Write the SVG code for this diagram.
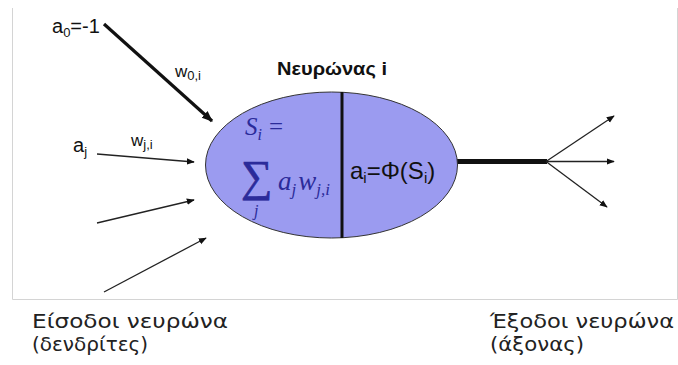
<svg xmlns="http://www.w3.org/2000/svg" width="678" height="365" viewBox="0 0 678 365">
<defs>
<marker id="ah" viewBox="0 0 10 10" refX="9" refY="5" markerWidth="8" markerHeight="8" markerUnits="userSpaceOnUse" orient="auto"><path d="M0,1 L10,5 L0,9 z" fill="#111"/></marker>
<marker id="ahb" viewBox="0 0 10 10" refX="9" refY="5" markerWidth="11" markerHeight="11" markerUnits="userSpaceOnUse" orient="auto"><path d="M0,1 L10,5 L0,9 z" fill="#111"/></marker>
</defs>
<style>
.lbl{font-family:"Liberation Sans",Arial,sans-serif;fill:#111}
.math{font-family:"Liberation Serif","Times New Roman",serif;font-style:italic;fill:#2b2b9a}
.cap{font-family:"DejaVu Sans","Noto Sans",sans-serif;fill:#222;font-size:20px}
.thin{stroke:#222;stroke-width:1.3;fill:none;marker-end:url(#ah)}
</style>
<rect width="678" height="365" fill="#fff"/>
<path d="M12.5,8 V299.5 H677.5 V8" fill="none" stroke="#d4d4d4" stroke-width="1"/>
<g id="connectors">
<line x1="104" y1="24" x2="212" y2="121" stroke="#111" stroke-width="3.2" marker-end="url(#ahb)"/>
<line class="thin" x1="97" y1="154" x2="194" y2="162"/>
<line class="thin" x1="97" y1="223" x2="194" y2="200"/>
<line class="thin" x1="104" y1="292" x2="206" y2="238"/>
<line x1="457" y1="161.5" x2="547" y2="161.5" stroke="#111" stroke-width="5"/>
<line class="thin" x1="546" y1="161.5" x2="614" y2="116"/>
<line class="thin" x1="546" y1="161.5" x2="614" y2="161.5"/>
<line class="thin" x1="546" y1="161.5" x2="607" y2="207"/>
</g>
<g id="inputs">
<text class="lbl" x="52" y="33" font-size="20">a<tspan font-size="13" dy="4">0</tspan><tspan dy="-4">=-1</tspan></text>
<text class="lbl" x="175" y="77" font-size="17">w<tspan font-size="13" dy="3">0,i</tspan></text>
<text class="lbl" x="73" y="152" font-size="20">a<tspan font-size="13" dy="4">j</tspan></text>
<text class="lbl" x="131" y="146" font-size="17">w<tspan font-size="13" dy="3">j,i</tspan></text>
</g>
<g id="neuron">
<ellipse cx="331.5" cy="165" rx="126" ry="73" fill="#9b9bf0" stroke="#333" stroke-width="1"/>
<line x1="342" y1="92" x2="342" y2="238" stroke="#111" stroke-width="3"/>
<text class="lbl" x="277" y="75" font-size="18" font-weight="bold" fill="#111" textLength="110" lengthAdjust="spacingAndGlyphs">Νευρώνας i</text>
<text class="math" x="245" y="135" font-size="25">S<tspan font-size="16" dy="5">i</tspan><tspan dy="-5" dx="7" font-style="normal">=</tspan></text>
<text x="241" y="191" font-size="44" font-family="'Liberation Serif',serif" fill="#2b2b9a" stroke="#2b2b9a" stroke-width="0.7">∑</text>
<text class="math" x="254" y="216" font-size="16">j</text>
<text class="math" x="278" y="190" font-size="27">a<tspan font-size="17" dy="5">j</tspan><tspan dy="-5" dx="2">w</tspan><tspan font-size="17" dy="5">j,i</tspan></text>
<text class="lbl" x="350" y="179" font-size="24">a<tspan font-size="15" dy="4">i</tspan><tspan dy="-4">=Φ(S</tspan><tspan font-size="15" dy="4">i</tspan><tspan dy="-4">)</tspan></text>
</g>
<g id="captions">
<text class="cap" x="32" y="328" textLength="196" lengthAdjust="spacingAndGlyphs">Είσοδοι νευρώνα</text>
<text class="cap" x="32" y="351" textLength="116" lengthAdjust="spacingAndGlyphs">(δενδρίτες)</text>
<text class="cap" x="490" y="328" textLength="184" lengthAdjust="spacingAndGlyphs">Έξοδοι νευρώνα</text>
<text class="cap" x="490" y="351" textLength="94" lengthAdjust="spacingAndGlyphs">(άξονας)</text>
</g>
</svg>
